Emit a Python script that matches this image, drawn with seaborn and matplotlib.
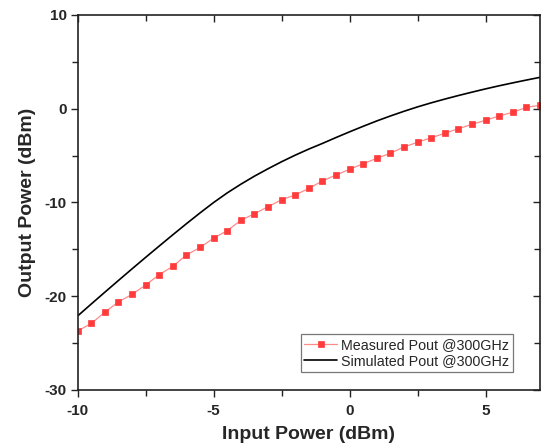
import matplotlib
matplotlib.use("Agg")
import matplotlib.pyplot as plt
from matplotlib.ticker import MultipleLocator
import seaborn as sns
import pandas as pd

input_power = [-10, -9.5, -9, -8.5, -8, -7.5, -7, -6.5, -6, -5.5, -5, -4.5, -4, -3.5,
               -3, -2.5, -2, -1.5, -1, -0.5, 0, 0.5, 1, 1.5, 2, 2.5, 3, 3.5, 4, 4.5,
               5, 5.5, 6, 6.5, 7]
measured_pout = [-23.7, -22.9, -21.7, -20.6, -19.8, -18.8, -17.7, -16.8, -15.6, -14.8,
                 -13.8, -13.0, -11.9, -11.2, -10.45, -9.7, -9.2, -8.5, -7.7, -7.07,
                 -6.46, -5.86, -5.29, -4.75, -4.07, -3.58, -3.09, -2.62, -2.13, -1.66,
                 -1.23, -0.77, -0.38, 0.15, 0.37]
simulated_pout = [-22.1, -20.825, -19.565, -18.315, -17.075, -15.85, -14.64, -13.44,
                  -12.26, -11.11, -10.0, -8.975, -8.05, -7.19, -6.40, -5.65, -4.95,
                  -4.30, -3.70, -3.07, -2.46, -1.87, -1.30, -0.77, -0.27, 0.20, 0.63,
                  1.03, 1.41, 1.77, 2.12, 2.45, 2.76, 3.06, 3.35]
x_ticks = [-10, -5, 0, 5]
y_ticks = [-30, -20, -10, 0, 10]

sns.set_style("white")
plt.rcParams['font.family'] = ['Liberation Sans', 'DejaVu Sans']

df = pd.DataFrame({"pin": input_power, "meas": measured_pout, "sim": simulated_pout})

fig = plt.figure(figsize=(5.44, 4.45), dpi=100)
ax = fig.add_axes([0.1428, 0.1236, 0.8498, 0.8427])

sns.lineplot(data=df, x="pin", y="meas", ax=ax, color="#FF8A8A", linewidth=0.9,
             marker="s", markersize=4.5, markerfacecolor="#FF3B3B",
             markeredgecolor="#FF3B3B", markeredgewidth=0.5,
             label="Measured Pout @300GHz")
sns.lineplot(data=df, x="pin", y="sim", ax=ax, color="black", linewidth=1.2,
             label="Simulated Pout @300GHz")

ax.set_xlim(-10, 7)
ax.set_ylim(-30, 10)
ax.set_xticks(x_ticks)
ax.set_yticks(y_ticks)
ax.set_xticklabels([str(t) for t in x_ticks], fontweight="bold", fontsize=11)
ax.set_yticklabels([str(t) for t in y_ticks], fontweight="bold", fontsize=11)
ax.xaxis.set_minor_locator(MultipleLocator(2.5))
ax.yaxis.set_minor_locator(MultipleLocator(5))

ax.tick_params(which="both", bottom=True, left=True, top=True, right=True,
               width=1.0, color="#222222")
ax.tick_params(which="major", length=5)
ax.tick_params(which="minor", length=4)
ax.tick_params(axis="x", which="both", direction="out", pad=5)
ax.tick_params(axis="y", which="both", direction="out", pad=3)
# top/right ticks point inward
for t in ax.xaxis.get_major_ticks() + ax.xaxis.get_minor_ticks():
    t.tick2line.set_marker(matplotlib.lines.TICKDOWN)
for t in ax.yaxis.get_major_ticks() + ax.yaxis.get_minor_ticks():
    t.tick2line.set_marker(matplotlib.lines.TICKLEFT)

for s in ax.spines.values():
    s.set_linewidth(1.2)
    s.set_color("#222222")

ax.set_xlabel("Input Power (dBm)", fontweight="bold", fontsize=14, labelpad=6)
ax.set_ylabel("Output Power (dBm)", fontweight="bold", fontsize=14, labelpad=6)

leg = ax.legend(loc="lower right", bbox_to_anchor=(0.9416, 0.0488), borderaxespad=0,
                fontsize=10.3, frameon=True, fancybox=False, handlelength=2.3,
                handletextpad=0.3, borderpad=0.25, labelspacing=0.15)
leg.get_frame().set_edgecolor("#555555")
leg.get_frame().set_linewidth(0.9)

fig.savefig("out.png", dpi=100)
